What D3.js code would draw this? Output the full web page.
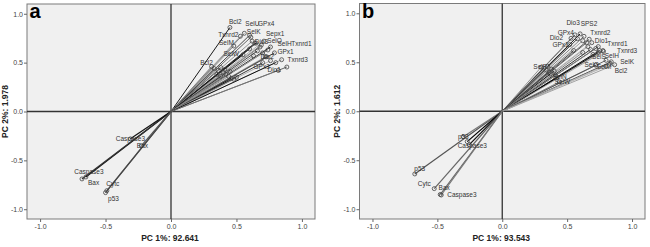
<!DOCTYPE html>
<html>
<head>
<meta charset="utf-8">
<script src="https://cdn.jsdelivr.net/npm/d3@7"></script>
<style>
  body { margin: 0; background: #fff; }
  svg { display: block; font-family: "Liberation Sans", Arial, sans-serif; }
</style>
</head>
<body>
<div id="chart"></div>
<script>
/* DATA */
// panel a: component loadings (PC1, PC2)
const labelsA = ["Bcl2","SelU","GPx4","Txnrd2","SelK","Sepx1","Dio3","SelO","SelH","Txnrd1","GPx1","Txnrd3","Dio1","Dio2","GPx3","SelM","SelW","Bcl2",
  "","","","","","","","","","","","","",
  "","","","","","","","","","","",
  "Caspase3","Bax","Cytc","p53","Caspase3","Bax"];
const pc1A = [0.45,0.56,0.60,0.53,0.61,0.71,0.64,0.69,0.76,0.74,0.79,0.845,0.885,0.72,0.70,0.48,0.55,0.31,
  0.33,0.36,0.38,0.40,0.42,0.44,0.46,0.48,0.38,0.41,0.35,0.45,0.50,
  0.62,0.65,0.68,0.66,0.70,0.73,0.76,0.60,0.63,0.80,0.82,
  -0.65,-0.68,-0.49,-0.50,-0.31,-0.226];
const pc2A = [0.86,0.80,0.78,0.77,0.76,0.72,0.70,0.68,0.66,0.63,0.60,0.53,0.455,0.56,0.50,0.67,0.58,0.46,
  0.44,0.42,0.45,0.40,0.38,0.36,0.34,0.33,0.36,0.43,0.38,0.41,0.35,
  0.72,0.70,0.66,0.62,0.60,0.56,0.52,0.64,0.57,0.50,0.42,
  -0.67,-0.69,-0.81,-0.83,-0.28,-0.35];

// panel b: component loadings (PC1, PC2)
const labelsB = ["Dio3","SPS2","GPx4","Dio2","Txnrd2","Dio1","Txnrd1","Txnrd3","SelH","SelS","SelK","Bcl2","SelO","SelM","GPx1","SelP","SelN","SelW",
  "","","","","","","","",
  "","","","","","","","","","","","",
  "p53","p53","Caspase3","","Cytc","Bax","Caspase3"];
const pc1B = [0.60,0.63,0.56,0.53,0.67,0.69,0.74,0.776,0.74,0.70,0.84,0.866,0.72,0.80,0.52,0.30,0.42,0.44,
  0.32,0.34,0.36,0.38,0.40,0.35,0.37,0.41,
  0.58,0.62,0.65,0.66,0.68,0.72,0.75,0.62,0.55,0.78,0.80,0.83,
  -0.674,-0.30,-0.254,-0.27,-0.524,-0.478,-0.47];
const pc2B = [0.79,0.765,0.78,0.745,0.735,0.70,0.66,0.62,0.60,0.58,0.505,0.475,0.47,0.46,0.68,0.45,0.34,0.30,
  0.44,0.42,0.40,0.43,0.41,0.46,0.38,0.37,
  0.74,0.72,0.70,0.66,0.63,0.64,0.62,0.60,0.62,0.61,0.52,0.49,
  -0.64,-0.26,-0.34,-0.31,-0.79,-0.85,-0.855];

const tickValues = [-1.0, -0.5, 0.0, 0.5, 1.0];
const panels = [
  { letter: "a", xTitle: "PC 1%: 92.641", yTitle: "PC 2%: 1.978", labels: labelsA, pc1: pc1A, pc2: pc2A },
  { letter: "b", xTitle: "PC 1%: 93.543", yTitle: "PC 2%: 1.612", labels: labelsB, pc1: pc1B, pc2: pc2B }
];

/* LAYOUT / STYLE */
const width = 650, height = 247;
const frames = [
  { left: 27, right: 315, top: 4, bottom: 219, yTitleX: 8 },
  { left: 359.5, right: 645, top: 3.5, bottom: 219, yTitleX: 340 }
];
const lineShades = ["#000","#777","#333","#999","#555","#aaa","#222","#888"];
const negShadesA = ["#111","#333","#666","#444","#111","#555"];
const negShadesB = ["#666","#666","#777","#555","#777","#111","#000"];

// label offsets [dx, dy, anchor], by panel and index
const labelPlace = [
  {0:[-1,-3.5,"start"],1:[1,-7,"start"],2:[8.5,-9,"start"],3:[-2,0.5,"end"],4:[-4,-3,"start"],5:[2,-5.5,"start"],
   6:[0,1,"start"],7:[6,-2,"start"],8:[7,-1,"start"],9:[23.5,-4,"start"],10:[3,1.5,"start"],11:[6,2.5,"start"],
   12:[-6,5,"end"],13:[2,2,"middle"],14:[-1,6.5,"middle"],15:[0,-1,"end"],16:[-4,1,"end"],17:[-5,-1.5,"middle"],
   42:[3,-3,"middle"],43:[6,6,"start"],44:[6,-5,"middle"],45:[8,8,"middle"],46:[0,2.5,"middle"],47:[1,2.5,"middle"]},
  {0:[-7,-9,"middle"],1:[5,-10,"middle"],2:[-1,0.5,"end"],3:[-8,2,"end"],4:[1,-4,"start"],5:[3,0,"start"],
   6:[9,-1,"start"],7:[14,2.5,"start"],8:[6.5,5.5,"start"],9:[-1,4.5,"start"],10:[9,2.5,"start"],11:[0,8,"start"],
   12:[-4,2,"middle"],13:[-2,3,"middle"],14:[-1,2.5,"end"],15:[-1,2,"middle"],16:[3,1,"middle"],17:[3,2.5,"middle"],
   38:[5,-3,"middle"],39:[0,2,"middle"],40:[3,3.5,"middle"],42:[-10,-3,"middle"],43:[4,-5,"middle"],44:[6,2,"start"]}
];

const fmt = v => d3.format(".1f")(v).replace("\u2212", "-");

const svg = d3.select("#chart").append("svg")
  .attr("width", width)
  .attr("height", height);

panels.forEach((p, pi) => {
  const f = frames[pi];
  const xScale = d3.scaleLinear().domain([-1.1, 1.1]).range([f.left, f.right]);
  const yScale = d3.scaleLinear().domain([-1.1, 1.1]).range([f.bottom, f.top]);
  const g = svg.append("g");

  g.append("rect")
    .attr("x", f.left).attr("y", f.top)
    .attr("width", f.right - f.left).attr("height", f.bottom - f.top)
    .attr("fill", "#f0f0f0")
    .attr("stroke", "#7a7a7a")
    .attr("stroke-width", 1);

  // axes
  const xAxis = d3.axisBottom(xScale).tickValues(tickValues).tickFormat(fmt).tickSize(3).tickPadding(2);
  const yAxis = d3.axisLeft(yScale).tickValues(tickValues).tickFormat(fmt).tickSize(3).tickPadding(1);
  const gx = g.append("g").attr("transform", `translate(0, ${f.bottom})`).call(xAxis);
  const gy = g.append("g").attr("transform", `translate(${f.left}, 0)`).call(yAxis);
  [gx, gy].forEach(a => {
    a.select(".domain").remove();
    a.selectAll("line").attr("stroke", "#666");
    a.selectAll("text").attr("font-size", 7).attr("fill", "#444").attr("font-family", "Liberation Sans, Arial");
  });

  // zero reference lines
  g.append("line")
    .attr("x1", xScale(0)).attr("x2", xScale(0))
    .attr("y1", f.top).attr("y2", f.bottom)
    .attr("stroke", "#333").attr("stroke-width", 1.3);
  g.append("line")
    .attr("x1", f.left).attr("x2", f.right)
    .attr("y1", yScale(0)).attr("y2", yScale(0))
    .attr("stroke", "#333").attr("stroke-width", 1.3);

  const data = p.labels.map((l, i) => ({ label: l, x: p.pc1[i], y: p.pc2[i], i }));
  const negShades = pi === 0 ? negShadesA : negShadesB;

  // vectors
  g.selectAll("line.vec")
    .data(data)
    .join("line")
    .attr("class", "vec")
    .attr("x1", xScale(0)).attr("y1", yScale(0))
    .attr("x2", d => xScale(d.x)).attr("y2", d => yScale(d.y))
    .attr("stroke", (d, i) => d.x < 0 ? negShades[i % negShades.length] : lineShades[i % lineShades.length])
    .attr("stroke-width", d => d.x < 0 ? 1.2 : 0.9);

  // end points
  g.selectAll("circle.pt")
    .data(data)
    .join("circle")
    .attr("class", "pt")
    .attr("cx", d => xScale(d.x)).attr("cy", d => yScale(d.y))
    .attr("r", 2)
    .attr("fill", "none")
    .attr("stroke", "#444")
    .attr("stroke-width", 0.8);

  // labels
  const place = labelPlace[pi];
  g.selectAll("text.lab")
    .data(data.filter(d => d.label !== ""))
    .join("text")
    .attr("class", "lab")
    .attr("x", d => xScale(d.x) + (place[d.i] ? place[d.i][0] : 3))
    .attr("y", d => yScale(d.y) + (place[d.i] ? place[d.i][1] : 0))
    .attr("text-anchor", d => place[d.i] ? place[d.i][2] : "start")
    .attr("font-size", 6.5)
    .attr("fill", "#333")
    .text(d => d.label);

  // titles
  g.append("text")
    .attr("x", (f.left + f.right) / 2 - 1)
    .attr("y", 241)
    .attr("text-anchor", "middle")
    .attr("font-size", 8.5)
    .attr("font-weight", "bold")
    .attr("fill", "#222")
    .text(p.xTitle);

  g.append("text")
    .attr("transform", `translate(${f.yTitleX}, ${yScale(0)}) rotate(-90)`)
    .attr("text-anchor", "middle")
    .attr("font-size", 8.5)
    .attr("font-weight", "bold")
    .attr("fill", "#222")
    .text(p.yTitle);

  g.append("text")
    .attr("x", f.left + 2.5)
    .attr("y", 18)
    .attr("font-size", 20)
    .attr("font-weight", "bold")
    .attr("fill", "#000")
    .text(p.letter);
});
</script>
</body>
</html>
